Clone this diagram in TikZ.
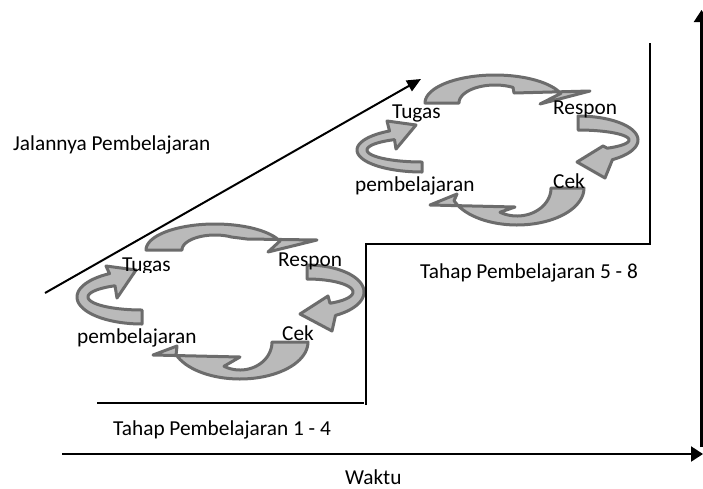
\documentclass[tikz,border=0pt]{standalone}
\usepackage{fontspec}
\setmainfont{Carlito}
\usetikzlibrary{arrows.meta}
\definecolor{arrowline}{RGB}{108,108,108}
\definecolor{arrowfill}{RGB}{186,186,186}
\begin{document}
\begin{tikzpicture}[x=1pt,y=-1pt,
  cyc/.style={draw=arrowline, fill=arrowfill, line width=3pt, line join=round},
  lbl/.style={anchor=base west, inner sep=0pt, font=\fontsize{21.3}{25}\selectfont},
  axisarrow/.style={line width=2.2pt, -{Triangle[length=12pt,width=15pt]}},
  diagarrow/.style={line width=2pt, -{Triangle[length=14pt,width=12pt]}},
  bracket/.style={line width=1.6pt},
  every plot/.style={samples=40}]
\useasboundingbox (0,0) rectangle (703,488);
\fill[white] (0,0) rectangle (703,488);

% ---- cycle 1 (lower left) ----
\draw[cyc] plot[domain=180:340] ({215+69*cos(\x)},{250+26*sin(\x)}) -- (268,252) -- (317,240) -- (247,239)
  -- plot[domain=300:180] ({215+33*cos(\x)},{250+15*sin(\x)}) -- cycle;
\draw[cyc] plot[domain=270:420] ({307+57*cos(\x)},{292+27*sin(\x)}) -- (332,331) -- (300,314) -- (328,296)
  -- plot[domain=420:270] ({307+46*cos(\x)},{292+13*sin(\x)}) -- cycle;
\draw[cyc] plot[domain=0:160] ({240+68*cos(\x)},{342+37*sin(\x)}) -- (177,346) -- (153,355) -- (240,357)
  -- plot[domain=120:0] ({240+32*cos(\x)},{342+28*sin(\x)}) -- cycle;
\draw[cyc] plot[domain=90:240] ({142+65*cos(\x)},{297+27*sin(\x)}) -- (106,266) -- (136,270) -- (117,298)
  -- plot[domain=240:90] ({142+54*cos(\x)},{297+13*sin(\x)}) -- cycle;

% ---- cycle 2 (upper right) ----
\draw[cyc] plot[domain=180:340] ({495+70*cos(\x)},{103+28*sin(\x)}) -- (540,104) -- (590,91) -- (514,93)
  -- plot[domain=300:180] ({495+36*cos(\x)},{103+18*sin(\x)}) -- cycle;
\draw[cyc] plot[domain=270:415] ({578+60*cos(\x)},{140+24*sin(\x)}) -- (605,178) -- (577,162) -- (603,146)
  -- plot[domain=415:270] ({578+51*cos(\x)},{140+10*sin(\x)}) -- cycle;
\draw[cyc] plot[domain=0:160] ({517+67*cos(\x)},{188+37*sin(\x)}) -- (457,194) -- (430,205) -- (515,207)
  -- plot[domain=120:0] ({517+34*cos(\x)},{188+28*sin(\x)}) -- cycle;
\draw[cyc] plot[domain=90:240] ({422+65*cos(\x)},{150+22*sin(\x)}) -- (387,121) -- (416,125) -- (396,149)
  -- plot[domain=240:90] ({422+55*cos(\x)},{150+12*sin(\x)}) -- cycle;

% ---- lines ----
\coordinate (d0) at (45,293);
\coordinate (d1) at (421,79);
\draw[diagarrow] (d0) -- (d1);
\coordinate (w0) at (62,454);
\coordinate (w1) at (703,454);
\draw[axisarrow] (w0) -- (w1);
\coordinate (v0) at (701.5,447);
\coordinate (v1) at (701.5,10);
\draw[axisarrow] (v0) -- (v1);
\coordinate (b1a) at (97,403);
\coordinate (b1b) at (364,403);
\draw[bracket] (b1a) -- (b1b);
\coordinate (b2a) at (366,405);
\coordinate (b2b) at (366,244);
\coordinate (b2c) at (650,244);
\coordinate (b2d) at (650,43);
\draw[bracket] (b2a) -- (b2b) -- (b2c) -- (b2d);

% ---- texts ----
\node[lbl] (jalan) at (13,150) {Jalannya Pembelajaran};
\node[lbl] (tahap1) at (113,435) {Tahap Pembelajaran 1 - 4};
\node[lbl] (tahap2) at (420,278) {Tahap Pembelajaran 5 - 8};
\node[lbl] (waktu) at (345,484) {Waktu};
\begin{scope}
\clip (100,250) rectangle (200,272);
\node[lbl] (tugas1) at (122,271) {Tugas};
\end{scope}
\node[lbl] (respon1) at (278,266) {Respon};
\node[lbl] (cek1) at (282,340) {Cek};
\node[lbl] (pemb1) at (77,343) {pembelajaran};
\node[lbl] (tugas2) at (392,118) {Tugas};
\node[lbl] (respon2) at (553,114) {Respon};
\node[lbl] (cek2) at (553,188) {Cek};
\node[lbl] (pemb2) at (355,191) {pembelajaran};
\end{tikzpicture}
\end{document}
